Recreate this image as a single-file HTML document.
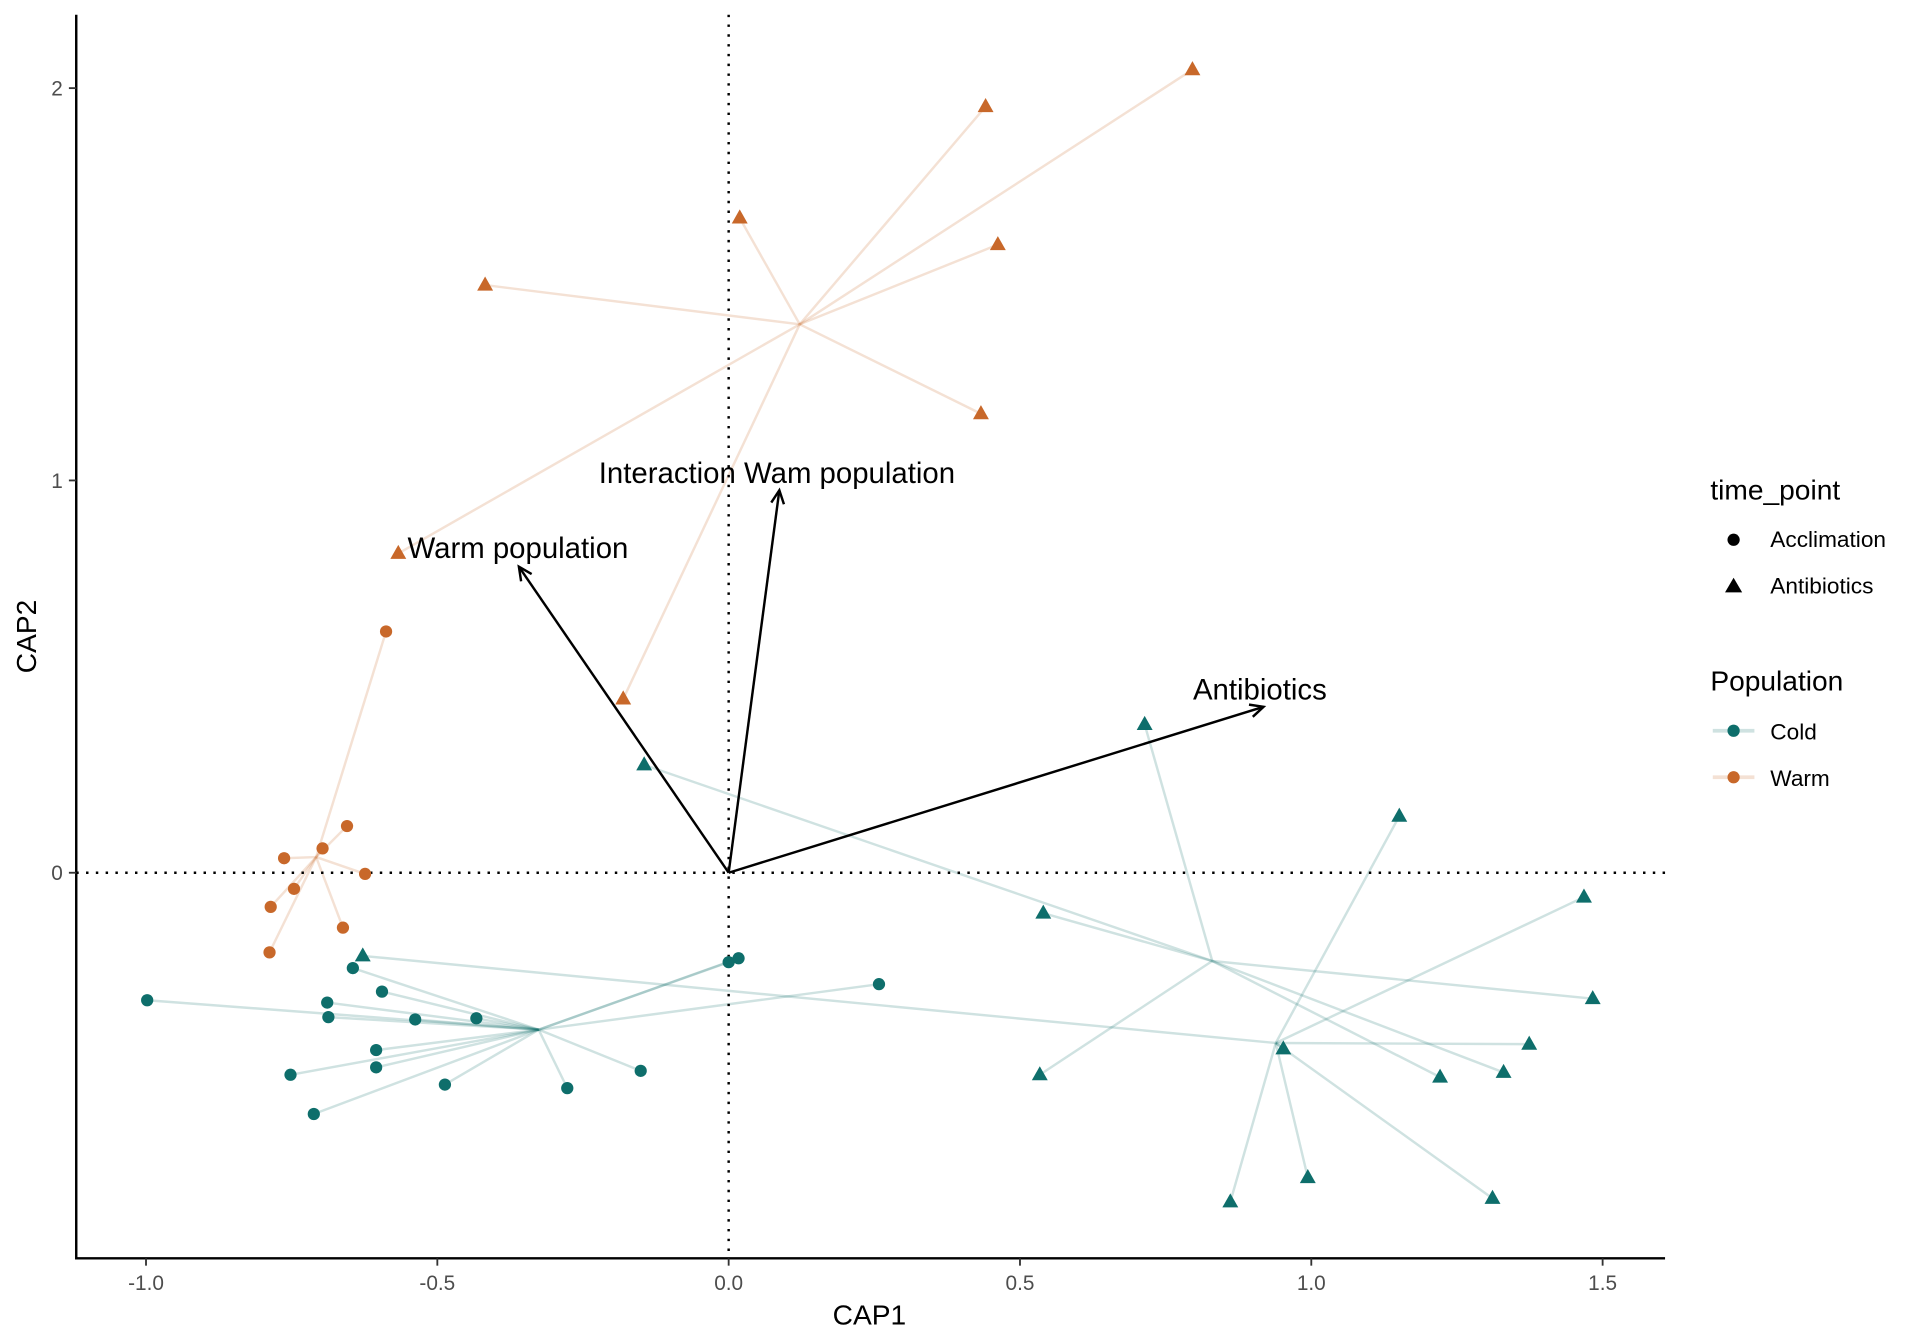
<!DOCTYPE html>
<html><head><meta charset="utf-8"><style>
html,body{margin:0;padding:0;background:#fff}
svg{display:block;font-family:"Liberation Sans",sans-serif}
</style></head><body>
<svg id="chart" width="1920" height="1344" viewBox="0 0 1568 1098" xmlns="http://www.w3.org/2000/svg">
<g id="lines"></g>
<g id="refs"></g>
<g id="arrows"></g>
<g id="points"></g>
<g id="axes"></g>
<g id="legend">
<text x="1397" y="408" font-size="23">time_point</text>
<circle cx="1416" cy="441" r="5" fill="#000"/>
<text x="1446" y="447" font-size="18.5">Acclimation</text>
<path d="M1416,472 L1423,484 L1409,484 Z" fill="#000"/>
<text x="1446" y="485" font-size="18.5">Antibiotics</text>
<text x="1397" y="564" font-size="23">Population</text>
<line x1="1399" y1="597" x2="1433" y2="597" stroke="#0e6e6b" stroke-opacity="0.2" stroke-width="3"/>
<circle cx="1416" cy="597" r="5" fill="#0e6e6b"/>
<text x="1446" y="604" font-size="18.5">Cold</text>
<line x1="1399" y1="635" x2="1433" y2="635" stroke="#c8682a" stroke-opacity="0.2" stroke-width="3"/>
<circle cx="1416" cy="635" r="5" fill="#c8682a"/>
<text x="1446" y="642" font-size="18.5">Warm</text>
</g>
</svg>
<script>
const centroidX = [0.122, -0.708, 0.830, 0.939, -0.326];
const centroidY = [1.398, 0.040, -0.225, -0.434, -0.400];
const centroidPop = ['Warm','Warm','Cold','Cold','Cold'];
const ptX = [0.796,0.441,0.019,0.462,-0.418,0.433,-0.567,-0.181,
 -0.588,-0.655,-0.697,-0.763,-0.624,-0.746,-0.786,-0.662,-0.788,
 -0.145,0.714,0.540,0.534,1.221,1.330,1.483,
 -0.628,1.151,0.861,1.468,1.374,0.952,0.994,1.311,
 -0.998,-0.645,-0.595,-0.689,-0.687,-0.538,-0.433,-0.605,-0.605,-0.752,-0.487,-0.277,-0.151,-0.712,0.000,0.017,0.258];
const ptY = [2.047,1.953,1.669,1.601,1.498,1.170,0.814,0.443,
 0.615,0.119,0.062,0.037,-0.003,-0.041,-0.087,-0.140,-0.203,
 0.275,0.378,-0.103,-0.515,-0.521,-0.509,-0.321,
 -0.212,0.144,-0.839,-0.062,-0.437,-0.449,-0.777,-0.830,
 -0.325,-0.243,-0.303,-0.331,-0.368,-0.374,-0.371,-0.452,-0.496,-0.515,-0.540,-0.549,-0.505,-0.615,-0.228,-0.218,-0.284];
const ptGroup = [0,0,0,0,0,0,0,0, 1,1,1,1,1,1,1,1,1, 2,2,2,2,2,2,2, 3,3,3,3,3,3,3,3, 4,4,4,4,4,4,4,4,4,4,4,4,4,4,4,4,4];
const ptShape = ['tri','tri','tri','tri','tri','tri','tri','tri',
 'circ','circ','circ','circ','circ','circ','circ','circ','circ',
 'tri','tri','tri','tri','tri','tri','tri','tri','tri','tri','tri','tri','tri','tri','tri',
 'circ','circ','circ','circ','circ','circ','circ','circ','circ','circ','circ','circ','circ','circ','circ','circ','circ'];
const arrowX = [-0.360, 0.087, 0.918];
const arrowY = [0.780, 0.975, 0.423];
const arrowLabels = ['Warm population','Interaction Wam population','Antibiotics'];
const xTicks = [-1.0,-0.5,0.0,0.5,1.0,1.5];
const xTickLabels = ['-1.0','-0.5','0.0','0.5','1.0','1.5'];
const yTicks = [0,1,2];
const yTickLabels = ['0','1','2'];

const NS='http://www.w3.org/2000/svg';
const X = v => 595 + v*476;
const Y = v => 713 - v*320.5;
const col = {Cold:'#0e6e6b', Warm:'#c8682a'};
function mk(parent, tag, attrs){const e=document.createElementNS(NS,tag);for(const k in attrs)e.setAttribute(k,attrs[k]);parent.appendChild(e);return e;}
const gL=document.getElementById('lines'), gP=document.getElementById('points'), gA=document.getElementById('arrows'), gR=document.getElementById('refs'), gX=document.getElementById('axes');

ptX.forEach((x,i)=>{
  const g=ptGroup[i]; const c=col[centroidPop[g]];
  const l=mk(gL,'line',{x1:X(x),y1:Y(ptY[i]),x2:X(centroidX[g]),y2:Y(centroidY[g]),stroke:c,'stroke-opacity':0.2,'stroke-width':2});
  
  
});
const rv=mk(gR,'line',{x1:X(0),y1:12,x2:X(0),y2:1028,stroke:'#000','stroke-width':2,'stroke-dasharray':'2 6'});


const rh=mk(gR,'line',{x1:62,y1:Y(0),x2:1360,y2:Y(0),stroke:'#000','stroke-width':2,'stroke-dasharray':'2 6'});



ptX.forEach((x,i)=>{
  const c=col[centroidPop[ptGroup[i]]]; const px=X(x), py=Y(ptY[i]);
  let e;
  if(ptShape[i]==='circ') e=mk(gP,'circle',{cx:px,cy:py,r:5,fill:c});
  else e=mk(gP,'path',{d:`M${px},${py-7} L${px+6.5},${py+4.5} L${px-6.5},${py+4.5} Z`,fill:c});
  
  
});

const labDX=[-91,-2,-3], labDY=[-7,-6,-6], labAnchor=['start','middle','middle'];
arrowX.forEach((ax,i)=>{
  const x2=X(ax), y2=Y(arrowY[i]), x1=X(0), y1=Y(0);
  const a=mk(gA,'line',{x1,y1,x2,y2,stroke:'#000','stroke-width':2});
  
  
  const ang=Math.atan2(y2-y1,x2-x1), L=12, s=0.45;
  const h=mk(gA,'path',{d:`M${x2-L*Math.cos(ang-s)},${y2-L*Math.sin(ang-s)} L${x2},${y2} L${x2-L*Math.cos(ang+s)},${y2-L*Math.sin(ang+s)}`,fill:'none',stroke:'#000','stroke-width':2});
  
  
  const t=mk(gA,'text',{x:x2+labDX[i], y:y2+labDY[i],'font-size':24,'text-anchor':labAnchor[i],fill:'#000'});
  t.textContent=arrowLabels[i];
  
  
});

const ax1=mk(gX,'line',{x1:62,y1:1028,x2:1360,y2:1028,stroke:'#000','stroke-width':2});


const ax2=mk(gX,'line',{x1:62,y1:12,x2:62,y2:1029,stroke:'#000','stroke-width':2});


xTicks.forEach((v,i)=>{
  const tk=mk(gX,'line',{x1:X(v),y1:1028,x2:X(v),y2:1034,stroke:'#333','stroke-width':1.5});
  
  
  const t=mk(gX,'text',{x:X(v),y:1054,'font-size':17,'text-anchor':'middle',fill:'#4d4d4d'});
  t.textContent=xTickLabels[i];
  
  
});
yTicks.forEach((v,i)=>{
  const tk=mk(gX,'line',{x1:56,y1:Y(v),x2:62,y2:Y(v),stroke:'#333','stroke-width':1.5});
  
  
  const t=mk(gX,'text',{x:51,y:Y(v)+6,'font-size':17,'text-anchor':'end',fill:'#4d4d4d'});
  t.textContent=yTickLabels[i];
  
  
});
const xt=mk(gX,'text',{x:710,y:1082,'font-size':23,'text-anchor':'middle'});
xt.textContent='CAP1';


const yt=mk(gX,'text',{x:29,y:520,'font-size':23,'text-anchor':'middle',transform:'rotate(-90 29 520)'});
yt.textContent='CAP2';


</script>
</body></html>
